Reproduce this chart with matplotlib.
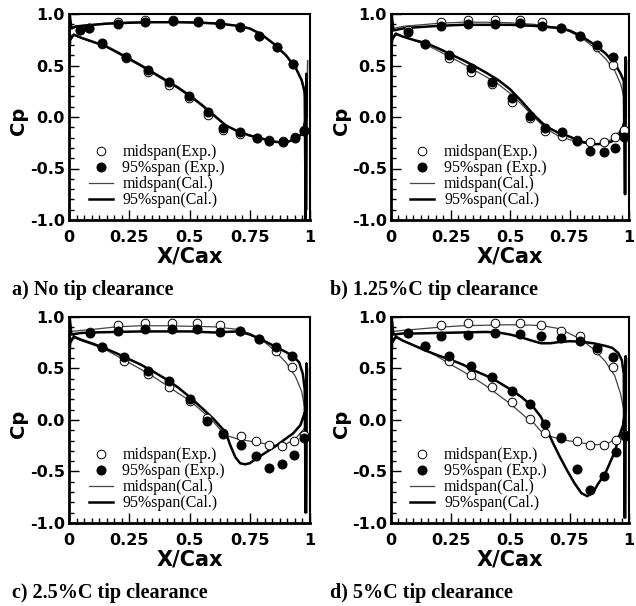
import matplotlib
matplotlib.use('Agg')
import matplotlib.pyplot as plt
from matplotlib.ticker import MultipleLocator, FixedLocator, FixedFormatter

# ---- panel a : no tip clearance
a_top_x = [0.045, 0.085, 0.205, 0.315, 0.43, 0.535, 0.627, 0.71, 0.79, 0.862, 0.93]
a_top_mid = [0.84, 0.86, 0.925, 0.94, 0.94, 0.935, 0.915, 0.87, 0.79, 0.68, 0.51]
a_top_tip = [0.84, 0.86, 0.90, 0.925, 0.93, 0.92, 0.905, 0.87, 0.79, 0.68, 0.51]
a_bot_x = [0.136, 0.235, 0.329, 0.416, 0.499, 0.575, 0.64, 0.71, 0.779, 0.831, 0.889, 0.938, 0.976]
a_bot_mid = [0.71, 0.57, 0.44, 0.31, 0.18, 0.02, -0.125, -0.165, -0.205, -0.22, -0.235, -0.19, -0.13]
a_bot_tip = [0.715, 0.585, 0.455, 0.335, 0.205, 0.045, -0.11, -0.15, -0.20, -0.23, -0.24, -0.205, -0.135]
a_cal_mid_x = [0.0, 0.003, 0.01, 0.03, 0.08, 0.15, 0.25, 0.35, 0.45, 0.55, 0.63, 0.70, 0.75, 0.80, 0.85, 0.90, 0.94, 0.965, 0.978, 0.988, 0.99, 0.985,
               0.97, 0.94, 0.90, 0.85, 0.80, 0.75, 0.70, 0.65, 0.60, 0.55, 0.50, 0.45, 0.40, 0.35, 0.30, 0.25, 0.20, 0.15, 0.10, 0.05, 0.02, 0.005, 0.0]
a_cal_mid_cp = [0.6, 0.95, 0.87, 0.885, 0.895, 0.91, 0.92, 0.925, 0.925, 0.92, 0.91, 0.885, 0.855, 0.795, 0.705, 0.595, 0.475, 0.35, 0.2, -0.9, 0.55, -0.1,
                -0.15, -0.205, -0.245, -0.235, -0.205, -0.175, -0.135, -0.08, 0.01, 0.11, 0.20, 0.28, 0.35, 0.42, 0.49, 0.555, 0.62, 0.685, 0.725, 0.765, 0.795, 0.75, 0.6]
a_cal_tip_x = [0.0, 0.003, 0.01, 0.03, 0.08, 0.15, 0.25, 0.35, 0.45, 0.55, 0.63, 0.70, 0.75, 0.80, 0.85, 0.90, 0.94, 0.965, 0.978, 0.982, 0.985, 0.984,
               0.97, 0.94, 0.90, 0.85, 0.80, 0.75, 0.70, 0.65, 0.60, 0.55, 0.50, 0.45, 0.40, 0.35, 0.30, 0.25, 0.20, 0.15, 0.10, 0.05, 0.02, 0.005, 0.0]
a_cal_tip_cp = [0.55, 1.0, 0.86, 0.88, 0.89, 0.905, 0.915, 0.92, 0.92, 0.915, 0.905, 0.885, 0.86, 0.80, 0.71, 0.60, 0.48, 0.36, 0.25, -1.0, 0.42, 0.0,
                -0.16, -0.21, -0.25, -0.24, -0.21, -0.18, -0.14, -0.08, 0.02, 0.12, 0.21, 0.29, 0.36, 0.43, 0.50, 0.565, 0.63, 0.69, 0.73, 0.77, 0.80, 0.75, 0.55]

# ---- panel b : 1.25%C
b_top_x = [0.07, 0.212, 0.324, 0.437, 0.542, 0.633, 0.716, 0.793, 0.865, 0.933]
b_top_mid = [0.84, 0.926, 0.942, 0.942, 0.942, 0.919, 0.867, 0.79, 0.683, 0.505]
b_top_tip = [0.83, 0.887, 0.906, 0.903, 0.909, 0.887, 0.861, 0.79, 0.70, 0.586]
b_bot_x = [0.142, 0.242, 0.335, 0.423, 0.508, 0.584, 0.648, 0.718, 0.78, 0.837, 0.893, 0.942, 0.98]
b_bot_mid = [0.71, 0.57, 0.44, 0.317, 0.149, -0.013, -0.136, -0.181, -0.223, -0.24, -0.24, -0.19, -0.126]
b_bot_tip = [0.706, 0.602, 0.479, 0.343, 0.181, 0.013, -0.104, -0.142, -0.233, -0.327, -0.343, -0.298, -0.19]
b_cal_mid_x = [0.0, 0.003, 0.01, 0.05, 0.1, 0.2, 0.3, 0.4, 0.5, 0.6, 0.7, 0.75, 0.8, 0.85, 0.9, 0.94, 0.965, 0.978, 0.988, 0.99, 0.985,
               0.975, 0.96, 0.93, 0.9, 0.85, 0.8, 0.75, 0.7, 0.65, 0.6, 0.55, 0.5, 0.45, 0.4, 0.35, 0.3, 0.25, 0.2, 0.15, 0.1, 0.05, 0.02, 0.005, 0.0]
b_cal_mid_cp = [0.6, 0.95, 0.86, 0.88, 0.89, 0.91, 0.92, 0.92, 0.915, 0.90, 0.87, 0.83, 0.77, 0.68, 0.57, 0.45, 0.32, 0.2, -0.75, 0.55, -0.05,
                -0.08, -0.14, -0.21, -0.25, -0.265, -0.25, -0.22, -0.18, -0.11, 0.0, 0.12, 0.23, 0.32, 0.39, 0.455, 0.52, 0.58, 0.64, 0.70, 0.74, 0.78, 0.80, 0.75, 0.6]
b_cal_tip_x = [0.0, 0.003, 0.01, 0.05, 0.1, 0.2, 0.3, 0.4, 0.5, 0.6, 0.7, 0.75, 0.8, 0.85, 0.9, 0.94, 0.965, 0.978, 0.983, 0.986, 0.984,
               0.975, 0.96, 0.93, 0.9, 0.85, 0.8, 0.75, 0.7, 0.65, 0.6, 0.55, 0.5, 0.45, 0.4, 0.35, 0.3, 0.25, 0.2, 0.15, 0.1, 0.05, 0.02, 0.005, 0.0]
b_cal_tip_cp = [0.55, 1.0, 0.84, 0.86, 0.87, 0.885, 0.895, 0.895, 0.895, 0.885, 0.865, 0.84, 0.785, 0.71, 0.62, 0.52, 0.42, 0.35, -0.75, 0.58, 0.0,
                -0.10, -0.17, -0.235, -0.26, -0.265, -0.24, -0.19, -0.15, -0.09, 0.02, 0.15, 0.27, 0.36, 0.43, 0.495, 0.555, 0.61, 0.665, 0.715, 0.745, 0.78, 0.81, 0.75, 0.55]

# ---- panel c : 2.5%C
c_top_x = [0.087, 0.205, 0.315, 0.426, 0.53, 0.627, 0.71, 0.79, 0.857, 0.926]
c_top_mid = [0.85, 0.926, 0.942, 0.942, 0.942, 0.926, 0.861, 0.79, 0.673, 0.511]
c_top_tip = [0.845, 0.861, 0.887, 0.887, 0.887, 0.854, 0.867, 0.79, 0.705, 0.618]
c_bot_x = [0.136, 0.23, 0.327, 0.414, 0.502, 0.572, 0.637, 0.712, 0.774, 0.83, 0.885, 0.935, 0.976]
c_bot_mid = [0.71, 0.57, 0.447, 0.317, 0.181, 0.019, -0.126, -0.159, -0.207, -0.24, -0.256, -0.207, -0.15]
c_bot_tip = [0.706, 0.608, 0.479, 0.382, 0.207, -0.006, -0.136, -0.246, -0.346, -0.466, -0.424, -0.337, -0.175]
c_cal_mid_x = [0.0, 0.003, 0.01, 0.05, 0.1, 0.2, 0.3, 0.4, 0.5, 0.6, 0.7, 0.75, 0.8, 0.85, 0.9, 0.94, 0.965, 0.978, 0.988, 0.99, 0.985,
               0.97, 0.94, 0.9, 0.85, 0.8, 0.75, 0.7, 0.66, 0.63, 0.6, 0.55, 0.5, 0.45, 0.4, 0.35, 0.3, 0.25, 0.2, 0.15, 0.1, 0.05, 0.02, 0.005, 0.0]
c_cal_mid_cp = [0.6, 0.95, 0.86, 0.87, 0.88, 0.905, 0.915, 0.915, 0.91, 0.905, 0.88, 0.84, 0.78, 0.68, 0.56, 0.42, 0.28, 0.12, -0.9, 0.5, -0.05,
                -0.1, -0.18, -0.235, -0.245, -0.225, -0.205, -0.185, -0.155, -0.10, -0.02, 0.09, 0.19, 0.265, 0.345, 0.42, 0.49, 0.555, 0.62, 0.685, 0.73, 0.77, 0.80, 0.75, 0.6]
c_cal_tip_x = [0.0, 0.003, 0.01, 0.05, 0.1, 0.2, 0.3, 0.4, 0.5, 0.6, 0.65, 0.7, 0.75, 0.8, 0.85, 0.9, 0.93, 0.955, 0.97, 0.978, 0.982, 0.986, 0.984,
               0.975, 0.96, 0.93, 0.9, 0.86, 0.82, 0.78, 0.75, 0.73, 0.71, 0.69, 0.67, 0.65, 0.6, 0.55, 0.5, 0.45, 0.4, 0.35, 0.3, 0.25, 0.2, 0.15, 0.1, 0.05, 0.02, 0.005, 0.0]
c_cal_tip_cp = [0.55, 1.0, 0.83, 0.845, 0.85, 0.855, 0.86, 0.86, 0.86, 0.85, 0.855, 0.86, 0.83, 0.78, 0.72, 0.66, 0.62, 0.56, 0.45, 0.3, -0.9, 0.55, 0.1,
                0.05, -0.05, -0.13, -0.18, -0.25, -0.31, -0.37, -0.42, -0.43, -0.42, -0.36, -0.25, -0.12, 0.01, 0.12, 0.225, 0.32, 0.40, 0.47, 0.535, 0.59, 0.645, 0.695, 0.74, 0.78, 0.81, 0.75, 0.55]

# ---- panel d : 5%C
d_top_x = [0.07, 0.211, 0.323, 0.436, 0.54, 0.632, 0.714, 0.794, 0.866, 0.932]
d_top_mid = [0.84, 0.926, 0.942, 0.942, 0.942, 0.919, 0.867, 0.812, 0.683, 0.511]
d_top_tip = [0.845, 0.812, 0.822, 0.845, 0.835, 0.812, 0.796, 0.764, 0.70, 0.608]
d_bot_x = [0.142, 0.242, 0.335, 0.425, 0.51, 0.585, 0.645, 0.716, 0.78, 0.835, 0.893, 0.945, 0.983]
d_bot_mid = [0.72, 0.57, 0.44, 0.317, 0.175, 0.013, -0.126, -0.168, -0.207, -0.24, -0.24, -0.19, -0.15]
d_bot_tip = [0.722, 0.618, 0.521, 0.417, 0.285, 0.155, -0.039, -0.175, -0.473, -0.676, -0.547, -0.311, -0.152]
d_cal_mid_x = [0.0, 0.003, 0.01, 0.05, 0.1, 0.2, 0.3, 0.4, 0.5, 0.6, 0.65, 0.7, 0.75, 0.8, 0.85, 0.9, 0.94, 0.965, 0.978, 0.988, 0.99, 0.985,
               0.97, 0.95, 0.91, 0.86, 0.79, 0.72, 0.67, 0.63, 0.6, 0.57, 0.5, 0.45, 0.4, 0.35, 0.3, 0.25, 0.2, 0.15, 0.1, 0.05, 0.02, 0.005, 0.0]
d_cal_mid_cp = [0.6, 0.95, 0.86, 0.87, 0.88, 0.90, 0.915, 0.92, 0.925, 0.92, 0.91, 0.89, 0.84, 0.78, 0.69, 0.57, 0.43, 0.25, 0.1, -0.95, 0.6, -0.05,
                -0.11, -0.17, -0.23, -0.24, -0.22, -0.19, -0.16, -0.11, -0.03, 0.02, 0.16, 0.245, 0.33, 0.405, 0.475, 0.54, 0.61, 0.675, 0.725, 0.77, 0.80, 0.75, 0.6]
d_cal_tip_x = [0.0, 0.003, 0.01, 0.05, 0.1, 0.2, 0.3, 0.4, 0.45, 0.5, 0.55, 0.6, 0.63, 0.67, 0.7, 0.75, 0.8, 0.85, 0.9, 0.93, 0.955, 0.97, 0.978, 0.982, 0.986, 0.984,
               0.975, 0.96, 0.94, 0.9, 0.87, 0.85, 0.825, 0.8, 0.77, 0.74, 0.71, 0.68, 0.65, 0.63, 0.6, 0.55, 0.5, 0.45, 0.4, 0.35, 0.3, 0.25, 0.2, 0.15, 0.1, 0.05, 0.02, 0.005, 0.0]
d_cal_tip_cp = [0.55, 1.0, 0.83, 0.84, 0.84, 0.845, 0.85, 0.855, 0.85, 0.83, 0.80, 0.765, 0.745, 0.745, 0.755, 0.765, 0.76, 0.745, 0.72, 0.70, 0.65, 0.58, 0.45, -0.95, 0.62, 0.1,
                -0.05, -0.15, -0.31, -0.52, -0.62, -0.70, -0.74, -0.71, -0.61, -0.49, -0.36, -0.22, -0.07, 0.03, 0.12, 0.22, 0.30, 0.37, 0.43, 0.48, 0.54, 0.585, 0.625, 0.67, 0.72, 0.77, 0.81, 0.75, 0.55]

captions = ['a) No tip clearance', 'b) 1.25%C tip clearance', 'c) 2.5%C tip clearance', 'd) 5%C tip clearance']
legend_labels = ['midspan(Exp.)', '95%span (Exp.)', 'midspan(Cal.)', '95%span(Cal.)']
x_ticks = [0, 0.25, 0.5, 0.75, 1]
x_ticklabels = ['0', '0.25', '0.5', '0.75', '1']
y_ticks = [-1.0, -0.5, 0.0, 0.5, 1.0]
y_ticklabels = ['-1.0', '-0.5', '0.0', '0.5', '1.0']

panels = [
    (a_top_x, a_top_mid, a_top_tip, a_bot_x, a_bot_mid, a_bot_tip, a_cal_mid_x, a_cal_mid_cp, a_cal_tip_x, a_cal_tip_cp),
    (b_top_x, b_top_mid, b_top_tip, b_bot_x, b_bot_mid, b_bot_tip, b_cal_mid_x, b_cal_mid_cp, b_cal_tip_x, b_cal_tip_cp),
    (c_top_x, c_top_mid, c_top_tip, c_bot_x, c_bot_mid, c_bot_tip, c_cal_mid_x, c_cal_mid_cp, c_cal_tip_x, c_cal_tip_cp),
    (d_top_x, d_top_mid, d_top_tip, d_bot_x, d_bot_mid, d_bot_tip, d_cal_mid_x, d_cal_mid_cp, d_cal_tip_x, d_cal_tip_cp),
]

W, H = 636, 606
fig = plt.figure(figsize=(W / 100, H / 100), dpi=100)

# axes boxes in pixels: left, top, width, height
boxes = [(69, 14, 241, 206), (391, 14, 238, 206), (69, 317, 241, 206), (391, 317, 238, 206)]
cap_pos = [(12, 290), (330, 290), (12, 593), (330, 593)]

serif = 'Liberation Serif'

for i, p in enumerate(panels):
    tx, tmid, ttip, bx, bmid, btip, mx, mcp, tpx, tpcp = p
    l, t, w, h = boxes[i]
    ax = fig.add_axes([l / W, 1 - (t + h) / H, w / W, h / H])

    ax.plot(mx, mcp, color='#444444', lw=0.9, zorder=2)
    ax.plot(tpx, tpcp, color='black', lw=1.8, zorder=3)
    ax.plot(tx, tmid, 'o', ms=6.2, mfc='white', mec='black', mew=0.7, zorder=4)
    ax.plot(bx, bmid, 'o', ms=6.2, mfc='white', mec='black', mew=0.7, zorder=4)
    ax.plot(tx, ttip, 'o', ms=6.2, mfc='black', mec='black', zorder=5)
    ax.plot(bx, btip, 'o', ms=6.2, mfc='black', mec='black', zorder=5)

    h1 = plt.Line2D([], [], ls='none', marker='o', ms=6.2, mfc='white', mec='black', mew=0.7)
    h2 = plt.Line2D([], [], ls='none', marker='o', ms=6.2, mfc='black', mec='black')
    h3 = plt.Line2D([], [], color='#444444', lw=0.9)
    h4 = plt.Line2D([], [], color='black', lw=1.8)
    ax.legend([h1, h2, h3, h4], legend_labels, loc='lower left', bbox_to_anchor=(0.055, 0.025),
              frameon=False, prop={'family': serif, 'size': 11.5}, handlelength=1.5,
              handletextpad=0.6, labelspacing=0.0, borderaxespad=0.0)

    ax.set_xlim(0, 1)
    ax.set_ylim(-1, 1)
    ax.xaxis.set_major_locator(FixedLocator(x_ticks))
    ax.xaxis.set_major_formatter(FixedFormatter(x_ticklabels))
    ax.yaxis.set_major_locator(FixedLocator(y_ticks))
    ax.yaxis.set_major_formatter(FixedFormatter(y_ticklabels))
    ax.xaxis.set_minor_locator(MultipleLocator(0.03125))
    ax.yaxis.set_minor_locator(MultipleLocator(0.1))
    ax.tick_params(which='both', direction='in', top=False, right=False, width=1.0)
    ax.tick_params(which='major', length=7)
    ax.tick_params(which='minor', length=3.5)
    ax.tick_params(axis='x', which='major', pad=7)
    ax.tick_params(axis='y', which='major', pad=3)
    for lab in ax.get_xticklabels() + ax.get_yticklabels():
        lab.set_fontfamily('DejaVu Sans')
        lab.set_fontweight('bold')
        lab.set_fontsize(11.5)
    for side in ['left', 'bottom']:
        ax.spines[side].set_linewidth(2.0)
    for side in ['top', 'right']:
        ax.spines[side].set_linewidth(1.5)

    ax.set_xlabel('X/Cax', fontfamily='DejaVu Sans', fontweight='bold', fontsize=15, labelpad=1)
    ax.set_ylabel('Cp', fontfamily='DejaVu Sans', fontweight='bold', fontsize=14)
    ax.yaxis.set_label_coords(-0.17, 0.48)

    cx, cy = cap_pos[i]
    fig.text(cx / W, 1 - cy / H, captions[i], family=serif, weight='bold', fontsize=14.5,
             ha='left', va='center')

fig.savefig('out.png', dpi=100)
